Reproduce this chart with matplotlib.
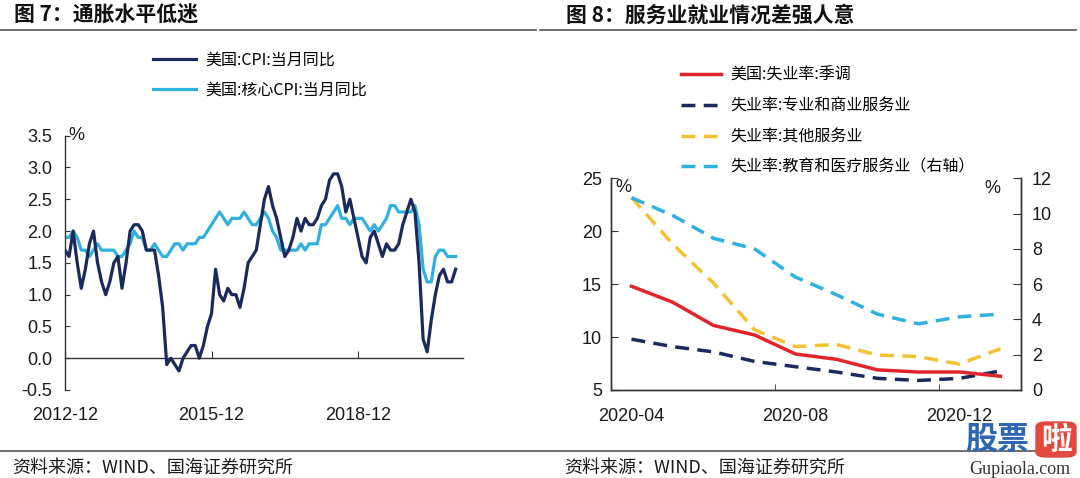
import numpy as np
import matplotlib
matplotlib.use("Agg")
import matplotlib.pyplot as plt
from matplotlib.lines import Line2D
from matplotlib.patches import FancyBboxPatch

plt.rcParams['font.family'] = ['Liberation Sans', 'Noto Sans CJK SC', 'DejaVu Sans']
cjk = ['Noto Sans CJK SC', 'DejaVu Sans']

# 图7: 美国CPI与核心CPI同比, 2012-12 至 2020-12 月度
cpi = [1.7,
       1.6, 2.0, 1.5, 1.1, 1.4, 1.8, 2.0, 1.5, 1.2, 1.0, 1.2, 1.5,
       1.6, 1.1, 1.5, 2.0, 2.1, 2.1, 2.0, 1.7, 1.7, 1.7, 1.3, 0.8,
       -0.1, 0.0, -0.1, -0.2, 0.0, 0.1, 0.2, 0.2, 0.0, 0.2, 0.5, 0.7,
       1.4, 1.0, 0.9, 1.1, 1.0, 1.0, 0.8, 1.1, 1.5, 1.6, 1.7, 2.1,
       2.5, 2.7, 2.4, 2.2, 1.9, 1.6, 1.7, 1.9, 2.2, 2.0, 2.2, 2.1,
       2.1, 2.2, 2.4, 2.5, 2.8, 2.9, 2.9, 2.7, 2.3, 2.5, 2.2, 1.9,
       1.6, 1.5, 1.9, 2.0, 1.8, 1.6, 1.8, 1.7, 1.7, 1.8, 2.1, 2.3,
       2.5, 2.3, 1.5, 0.3, 0.1, 0.6, 1.0, 1.3, 1.4, 1.2, 1.2, 1.4]
core_cpi = [1.9,
            1.9, 2.0, 1.9, 1.7, 1.7, 1.6, 1.7, 1.8, 1.7, 1.7, 1.7, 1.7,
            1.6, 1.6, 1.7, 1.8, 2.0, 1.9, 1.9, 1.7, 1.7, 1.8, 1.7, 1.6,
            1.6, 1.7, 1.8, 1.8, 1.7, 1.8, 1.8, 1.8, 1.9, 1.9, 2.0, 2.1,
            2.2, 2.3, 2.2, 2.1, 2.2, 2.2, 2.2, 2.3, 2.2, 2.1, 2.1, 2.2,
            2.3, 2.2, 2.0, 1.9, 1.7, 1.7, 1.7, 1.7, 1.7, 1.8, 1.7, 1.8,
            1.8, 1.8, 2.1, 2.1, 2.2, 2.3, 2.4, 2.2, 2.2, 2.1, 2.2, 2.2,
            2.2, 2.1, 2.0, 2.1, 2.0, 2.1, 2.2, 2.4, 2.4, 2.3, 2.3, 2.3,
            2.3, 2.4, 2.1, 1.4, 1.2, 1.2, 1.6, 1.7, 1.7, 1.6, 1.6, 1.6]
cpi_ticks = [0, 36, 72]
cpi_tick_labels = ['2012-12', '2015-12', '2018-12']

# 图8: 失业率, 2020-04 至 2021-01
months = ['2020-04', '2020-05', '2020-06', '2020-07', '2020-08',
          '2020-09', '2020-10', '2020-11', '2020-12', '2021-01']
unemp = [14.8, 13.3, 11.1, 10.2, 8.4, 7.9, 6.9, 6.7, 6.7, 6.3]
prof_biz = [9.8, 9.1, 8.6, 7.7, 7.2, 6.7, 6.1, 5.9, 6.1, 6.8]
other_serv = [23.2, 18.8, 15.1, 10.7, 9.1, 9.3, 8.3, 8.15, 7.45, 8.9]
edu_health = [10.9, 9.9, 8.6, 8.0, 6.4, 5.4, 4.3, 3.75, 4.15, 4.3]  # 右轴

navy = '#1b2a5c'
sky = '#2fb0e0'
red = '#e2252b'
gold = '#f3c233'
txt = '#1a1a1a'
spine_c = '#333333'

W, H = 1080, 478
fig = plt.figure(figsize=(W / 100, H / 100), dpi=100)

# ---------- 左图 ----------
ax1 = fig.add_axes([65 / W, 1 - 390 / H, (463 - 65) / W, (390 - 135.7) / H])
x = np.arange(len(cpi))
ax1.plot(x, core_cpi, color=sky, lw=2.3, label='美国:核心CPI:当月同比', zorder=2)
ax1.plot(x, cpi, color=navy, lw=2.3, label='美国:CPI:当月同比', zorder=3)
ax1.set_xlim(0, 97.8)
ax1.set_ylim(-0.5, 3.5)
ax1.set_yticks(np.arange(-0.5, 3.51, 0.5))
ax1.set_yticklabels([f'{v:.1f}' for v in np.arange(-0.5, 3.51, 0.5)])
for s in ['top', 'right']:
    ax1.spines[s].set_visible(False)
ax1.spines['bottom'].set_position(('data', 0))
for s in ['left', 'bottom']:
    ax1.spines[s].set_color(spine_c)
    ax1.spines[s].set_linewidth(1.0)
ax1.set_xticks(cpi_ticks)
ax1.tick_params(axis='x', direction='in', length=5, color=spine_c, labelbottom=False)
ax1.tick_params(axis='y', direction='in', length=3.5, color=spine_c, pad=9,
                labelsize=13, labelcolor=txt)
sec = ax1.secondary_xaxis('bottom')
sec.set_xticks(cpi_ticks)
sec.set_xticklabels(cpi_tick_labels)
sec.tick_params(length=0, pad=12, labelsize=13, labelcolor=txt)
sec.spines['bottom'].set_visible(False)
ax1.text(0.8, 3.5, '%', fontsize=13, color=txt, va='center', ha='left',
         transform=ax1.transData)
h1, l1 = ax1.get_legend_handles_labels()
ax1.legend(h1[::-1], l1[::-1], loc='upper left', bbox_to_anchor=(153 / W, 1 - 52 / H),
           bbox_transform=fig.transFigure, frameon=False, borderpad=0, borderaxespad=0,
           handlelength=2.7, handletextpad=0.6, labelspacing=0.78,
           prop={'family': cjk, 'size': 11.5})

# ---------- 右图 ----------
ax2 = fig.add_axes([611 / W, 1 - 390 / H, (1021 - 611) / W, (390 - 178.3) / H])
ax3 = ax2.twinx()
xi = np.arange(len(months))
dash = (4, 2.4)
ax2.plot(xi, unemp, color=red, lw=2.5, label='美国:失业率:季调', zorder=4)
ax2.plot(xi, prof_biz, color=navy, lw=2.5, ls=(0, dash), label='失业率:专业和商业服务业', zorder=3)
ax2.plot(xi, other_serv, color=gold, lw=2.5, ls=(0, dash), label='失业率:其他服务业', zorder=3)
ax3.plot(xi, edu_health, color=sky, lw=2.5, ls=(0, dash), label='失业率:教育和医疗服务业（右轴）')
ax2.set_xlim(-0.5, len(months) - 0.5)
ax2.set_ylim(5, 25)
ax2.set_yticks([5, 10, 15, 20, 25])
ax3.set_ylim(0, 12)
ax3.set_yticks(np.arange(0, 13, 2))
ax2.set_xticks(xi[::4])
ax2.set_xticklabels(months[::4])
ax2.set_xticks(xi[3::4] + 0.5, minor=True)
ax2.tick_params(axis='x', which='major', length=0, pad=13, labelsize=13, labelcolor=txt)
ax2.tick_params(axis='x', which='minor', direction='in', length=4, color=spine_c)
ax2.tick_params(axis='y', direction='in', length=5, color=spine_c, pad=6.5,
                labelsize=13, labelcolor=txt)
ax3.tick_params(axis='y', direction='in', length=5.5, color=spine_c, pad=8,
                labelsize=13, labelcolor=txt)
for a in (ax2, ax3):
    a.spines['top'].set_visible(False)
    for s in ['left', 'right', 'bottom']:
        a.spines[s].set_color(spine_c)
        a.spines[s].set_linewidth(1.0)
ax2.text(0.01, 0.955, '%', fontsize=13, color=txt, va='center', ha='left',
         transform=ax2.transAxes)
ax2.text(0.91, 0.95, '%', fontsize=13, color=txt, va='center', ha='left',
         transform=ax2.transAxes)
h2, l2 = ax2.get_legend_handles_labels()
h3, l3 = ax3.get_legend_handles_labels()
ax3.legend(h2 + h3, l2 + l3, loc='upper left', bbox_to_anchor=(681 / W, 1 - 67 / H),
           bbox_transform=fig.transFigure, frameon=False, borderpad=0, borderaxespad=0,
           handlelength=2.5, handletextpad=0.6, labelspacing=0.85,
           prop={'family': cjk, 'size': 11.5})

# ---------- 标题、分隔线、来源 ----------
fig.text(14 / W, 1 - 15 / H, '图 7：通胀水平低迷', family=cjk, fontsize=15,
         fontweight='bold', va='center', ha='left', color='#111111')
fig.text(566 / W, 1 - 15 / H, '图 8：服务业就业情况差强人意', family=cjk, fontsize=15,
         fontweight='bold', va='center', ha='left', color='#111111')
for x0, x1 in [(0, 536), (540, 1076)]:
    fig.add_artist(Line2D([x0 / W, x1 / W], [1 - 30 / H] * 2, color='#666666', lw=1.3))
fig.add_artist(Line2D([0, 1066 / W], [1 - 451 / H] * 2, color='#555555', lw=1.2))
fig.text(12 / W, 1 - 468 / H, '资料来源：WIND、国海证券研究所', family=cjk, fontsize=13,
         va='center', ha='left', color=txt)
fig.text(564 / W, 1 - 468 / H, '资料来源：WIND、国海证券研究所', family=cjk, fontsize=13,
         va='center', ha='left', color=txt)

# 水印
fig.patches.append(FancyBboxPatch((1036 / W, 1 - 457 / H), 40 / W, 35 / H,
                                  boxstyle='round,pad=0,rounding_size=0.01',
                                  transform=fig.transFigure, color='#e2493e', zorder=5))
fig.text(997 / W, 1 - 440 / H, '股票', family=cjk, fontsize=23, fontweight='bold',
         color='#2f66b3', ha='center', va='center', zorder=6)
fig.text(1056 / W, 1 - 440 / H, '啦', family=cjk, fontsize=22, fontweight='bold',
         color='white', ha='center', va='center', zorder=6)
fig.text(1020 / W, 1 - 469 / H, 'Gupiaola.com', family=['Liberation Serif', 'DejaVu Serif'],
         fontsize=13, color='#333333', ha='center', va='center', zorder=6)

fig.savefig('out.png', dpi=100, facecolor='white')
